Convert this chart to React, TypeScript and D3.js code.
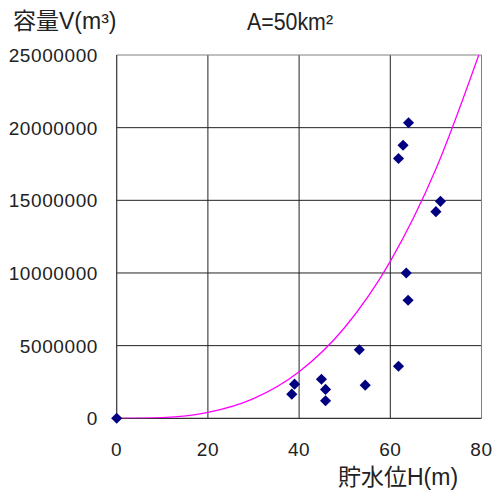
import React from "react";
import * as d3 from "d3";

// Observed points: water level H (m) and storage V (m³)
const obsH = [0, 39.0, 38.4, 44.9, 45.8, 45.8, 54.5, 53.2, 61.8, 64.0, 62.8, 61.8, 71.0, 70.0, 63.5, 63.9];
const obsV = [0, 2350000, 1660000, 2690000, 1990000, 1210000, 2280000, 4720000, 3580000, 20340000, 18790000, 17880000, 14930000, 14220000, 10000000, 8120000];

// Fitted curve
const curveH = [0, 10, 20, 30, 40, 50, 60, 70, 79.4];
const curveV = [0, 50000, 400000, 1350000, 3200000, 6250000, 10800000, 17150000, 25000000];

const xTicks = [0, 20, 40, 60, 80];
const yTicks = [0, 5000000, 10000000, 15000000, 20000000, 25000000];

const title = "A=50km²";
const xTitle = "貯水位H(m)";
const yTitle = "容量V(m³)";

const W = 493;
const H = 490;
const left = 116.7;
const right = 481.5;
const top = 55;
const bottom = 418.3;

export default function App() {
  const x = d3.scaleLinear().domain([0, 80]).range([left, right]);
  const y = d3.scaleLinear().domain([0, 25000000]).range([bottom, top]);

  const line = d3
    .line<number>()
    .x((_, i) => x(curveH[i]))
    .y((_, i) => y(curveV[i]))
    .curve(d3.curveMonotoneX);
  const curvePath = line(curveV) || "";

  const diamond = d3.symbol().type(d3.symbolSquare).size(62)() || "";

  const font = "'Liberation Sans', Arial, 'Noto Sans CJK JP', sans-serif";

  return (
    <svg
      width={W}
      height={H}
      style={{ position: "absolute", left: 0, top: 0, background: "#fff" }}
      fontFamily={font}
    >
      <defs>
        <clipPath id="plotClip">
          <rect x={left} y={top} width={right - left} height={bottom - top} />
        </clipPath>
      </defs>
      <rect x={0} y={0} width={W} height={H} fill="#fff" />

      {/* grid */}
      {yTicks.slice(1, -1).map((t) => (
        <line key={"gy" + t} x1={left} x2={right} y1={y(t)} y2={y(t)} stroke="#222" strokeWidth={1} />
      ))}
      {xTicks.slice(1, -1).map((t) => (
        <line key={"gx" + t} x1={x(t)} x2={x(t)} y1={top} y2={bottom} stroke="#222" strokeWidth={1} />
      ))}
      {/* frame */}
      <line x1={left} x2={right} y1={top} y2={top} stroke="#808080" strokeWidth={1} />
      <line x1={right} x2={right} y1={top} y2={bottom} stroke="#808080" strokeWidth={1} />
      <line x1={left} x2={left} y1={top} y2={bottom} stroke="#333" strokeWidth={1.2} />
      <line x1={left} x2={right} y1={bottom} y2={bottom} stroke="#333" strokeWidth={1.2} />

      {/* curve */}
      <path d={curvePath} fill="none" stroke="#ff00ff" strokeWidth={1.3} clipPath="url(#plotClip)" />

      {/* points */}
      {obsH.map((h, i) => (
        <path
          key={"p" + i}
          d={diamond}
          transform={`translate(${x(h)},${y(obsV[i])}) rotate(45)`}
          fill="#000080"
        />
      ))}

      {/* y tick labels */}
      {yTicks.map((t) => (
        <text
          key={"yl" + t}
          x={98}
          y={y(t) + 7}
          textAnchor="end"
          fontSize={19}
          letterSpacing={0.6}
          fill="#222"
        >
          {String(t)}
        </text>
      ))}
      {/* x tick labels */}
      {xTicks.map((t) => (
        <text
          key={"xl" + t}
          x={x(t)}
          y={456}
          textAnchor="middle"
          fontSize={19}
          letterSpacing={0.6}
          fill="#222"
        >
          {String(t)}
        </text>
      ))}

      <text x={13} y={29} fontSize={23} fill="#222">
        {yTitle}
      </text>
      <text x={247} y={30} fontSize={23} textLength={86} lengthAdjust="spacingAndGlyphs" fill="#222">
        {title}
      </text>
      <text x={338} y={485} fontSize={23} fill="#222">
        {xTitle}
      </text>
    </svg>
  );
}
